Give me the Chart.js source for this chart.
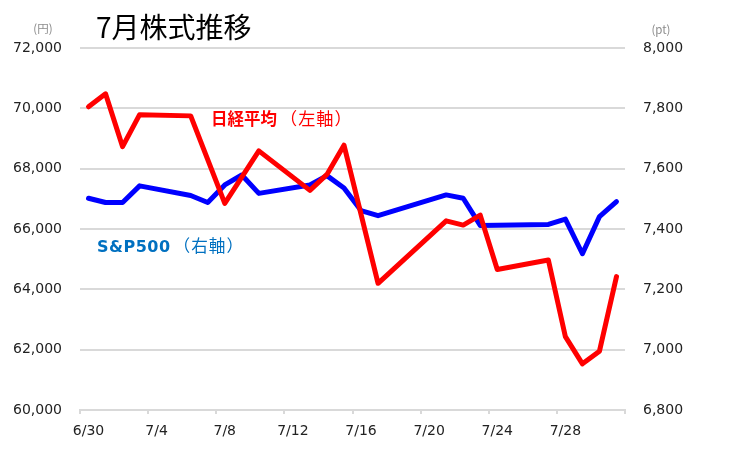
<!DOCTYPE html>
<html>
<head>
<meta charset="utf-8">
<script src="https://cdn.jsdelivr.net/npm/chart.js@4.4.1/dist/chart.umd.min.js"></script>
<style>
  html, body { margin: 0; padding: 0; background: #fff; }
  #wrap { position: relative; width: 750px; height: 469px; overflow: hidden; }
  #c { position: absolute; left: 0; top: 0; }
  .ov { position: absolute; white-space: nowrap; transform: translate(0, -50%); line-height: 1.2; }
  .ovc { transform: translate(-50%, -50%); }
  #title { left: 96px; top: 27px; font-family: "Noto Sans CJK JP", sans-serif; font-size: 28px; color: #000; }
  .unit { font-family: "Noto Sans CJK JP", sans-serif; font-size: 11.5px; color: #8c8c8c; }
  #unitL { left: 43px; top: 29px; }
  #unitR { left: 661px; top: 30px; }
  #nk { left: 211px; top: 118px; font-family: "Noto Sans CJK JP", sans-serif; font-size: 16.5px; color: #FF0000; }
  #sp { left: 97px; top: 246px; font-family: "Noto Sans CJK JP", sans-serif; font-size: 16px; color: #0070C0; }
  .b { font-weight: bold; }
  .lat { font-family: "DejaVu Sans", sans-serif; letter-spacing: 0.5px; }
  .par { letter-spacing: 1px; margin-left: 3px; font-size: 1.04em; }
</style>
</head>
<body>
<div id="wrap">
  <canvas id="c" width="750" height="469"></canvas>
  <div id="title" class="ov">7月株式推移</div>
  <div id="unitL" class="ov ovc unit">(円)</div>
  <div id="unitR" class="ov ovc unit">(pt)</div>
  <div id="nk" class="ov"><span class="b">日経平均</span><span class="par">（左軸）</span></div>
  <div id="sp" class="ov"><span class="b lat">S&amp;P500</span><span class="par">（右軸）</span></div>
</div>
<script>
// ---- data ----
const year = 2020;
const startDate = '6/30';
const xTickLabels = ['6/30', '7/4', '7/8', '7/12', '7/16', '7/20', '7/24', '7/28', ''];
const leftTickLabels = ['60,000', '62,000', '64,000', '66,000', '68,000', '70,000', '72,000'];
const rightTickLabels = ['6,800', '7,000', '7,200', '7,400', '7,600', '7,800', '8,000'];

const nikkeiDates = ['6/30','7/1','7/2','7/3','7/6','7/8','7/10','7/13','7/14','7/15','7/17','7/21','7/22','7/23','7/24','7/27','7/28','7/29','7/30','7/31'];
const nikkeiValues = [70050,70480,68730,69790,69750,66850,68590,67280,67810,68780,64200,66270,66130,66460,64660,64970,62430,61530,61950,64420];

const spDates = ['6/30','7/1','7/2','7/3','7/6','7/7','7/8','7/9','7/10','7/13','7/14','7/15','7/16','7/17','7/21','7/22','7/23','7/27','7/28','7/29','7/30','7/31'];
const spValues = [7502,7488,7488,7543,7511,7488,7546,7579,7518,7546,7577,7536,7461,7444,7513,7502,7412,7415,7433,7318,7441,7491];

// ---- helpers ----
function dayIndex(md) {
  const [m, d] = md.split('/').map(Number);
  const [sm, sd] = startDate.split('/').map(Number);
  return (Date.UTC(year, m - 1, d) - Date.UTC(year, sm - 1, sd)) / 86400000;
}
function pts(dates, values) {
  return dates.map((d, i) => ({ x: dayIndex(d) + 0.5, y: values[i] }));
}
const tickFont = { family: 'DejaVu Sans', size: 14 };
const GRID = '#D9D9D9';

new Chart(document.getElementById('c'), {
  type: 'line',
  data: {
    datasets: [
      { label: '日経平均', data: pts(nikkeiDates, nikkeiValues), yAxisID: 'yL',
        borderColor: '#FF0000', backgroundColor: '#FF0000', borderWidth: 5, pointRadius: 0,
        tension: 0, borderJoinStyle: 'round', borderCapStyle: 'round', fill: false },
      { label: 'S&P500', data: pts(spDates, spValues), yAxisID: 'yR',
        borderColor: '#0000FF', backgroundColor: '#0000FF', borderWidth: 5, pointRadius: 0,
        tension: 0, borderJoinStyle: 'round', borderCapStyle: 'round', fill: false }
    ]
  },
  options: {
    responsive: false,
    animation: false,
    events: [],
    layout: { padding: { top: 48, left: 0, right: 0, bottom: 0 } },
    plugins: { legend: { display: false }, tooltip: { enabled: false }, title: { display: false } },
    scales: {
      x: {
        type: 'linear', min: 0, max: (xTickLabels.length - 1) * 4,
        afterBuildTicks: s => { s.ticks = xTickLabels.map((l, i) => ({ value: i * 4 })); },
        ticks: { autoSkip: false, maxRotation: 0, minRotation: 0, labelOffset: 8.5, padding: 9,
                 color: '#222', font: tickFont, callback: (v, i) => xTickLabels[i] },
        grid: { drawOnChartArea: false, drawTicks: true, tickLength: 4, color: GRID, lineWidth: 2 },
        border: { display: true, color: GRID, width: 2 },
        afterFit: s => { s.height = 59; }
      },
      yL: {
        position: 'left', min: 60000, max: 72000,
        afterBuildTicks: s => { s.ticks = leftTickLabels.map((l, i) => ({ value: 60000 + i * 2000 })); },
        ticks: { padding: 18, color: '#222', font: tickFont, callback: (v, i) => leftTickLabels[i] },
        grid: { color: GRID, lineWidth: 2, drawTicks: false },
        border: { display: false },
        afterFit: s => { s.width = 80; }
      },
      yR: {
        position: 'right', min: 6800, max: 8000,
        afterBuildTicks: s => { s.ticks = rightTickLabels.map((l, i) => ({ value: 6800 + i * 200 })); },
        ticks: { padding: 18, color: '#222', font: tickFont, callback: (v, i) => rightTickLabels[i] },
        grid: { display: false, drawTicks: false },
        border: { display: false },
        afterFit: s => { s.width = 125; }
      }
    }
  }
});
</script>
</body>
</html>
